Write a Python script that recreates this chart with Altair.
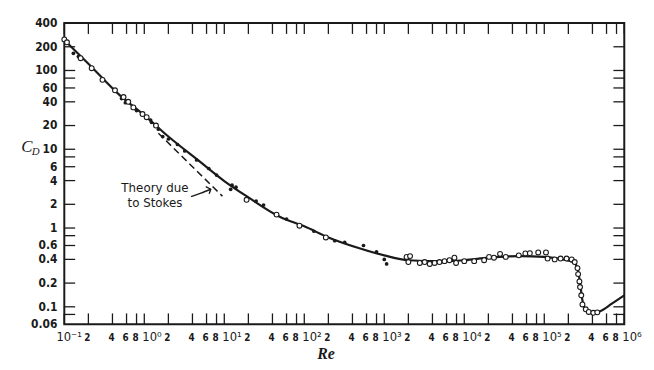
import altair as alt
import pandas as pd

# ---------------- data ----------------
curve_re = [0.1, 0.2, 0.5, 1, 2, 5, 10, 20, 50, 100, 200, 500, 1000, 2000, 5000,
            1e4, 2e4, 5e4, 1e5, 1.7e5, 2.3e5, 2.6e5, 2.8e5, 3.0e5, 3.3e5, 3.8e5,
            4.4e5, 5e5, 7e5, 1e6]
curve_cd = [244, 122, 48, 27, 14.5, 6.9, 3.95, 2.45, 1.38, 1.05, 0.76, 0.55, 0.45,
            0.39, 0.38, 0.39, 0.42, 0.44, 0.43, 0.40, 0.37, 0.31, 0.20, 0.12,
            0.092, 0.085, 0.085, 0.088, 0.11, 0.14]

stokes_re = [1.5, 9.5]
stokes_cd = [16.0, 2.53]

open_re = [0.1, 0.108, 0.16, 0.22, 0.30, 0.43, 0.55, 0.63, 0.73, 0.95, 1.07, 1.4,
           19, 45, 87, 186, 1900, 2000, 2100, 2780, 3200, 3700, 4260, 4900, 5660,
           6530, 7530, 7900, 1e4, 1.33e4, 1.77e4, 2.04e4, 2.35e4, 2.8e4, 3.3e4,
           4.8e4, 5.8e4, 6.6e4, 8.4e4, 1.05e5, 1.1e5, 1.35e5, 1.6e5, 1.9e5,
           2.2e5, 2.4e5, 2.6e5, 2.65e5, 2.75e5, 2.8e5, 2.9e5, 3.0e5, 3.3e5,
           3.6e5, 4.1e5, 4.6e5]
open_cd = [248, 228, 143, 107, 76, 56, 46, 40, 34, 28, 25.5, 20,
           2.28, 1.48, 1.07, 0.76, 0.43, 0.37, 0.44, 0.36, 0.37, 0.35, 0.36, 0.37,
           0.38, 0.39, 0.42, 0.36, 0.38, 0.38, 0.39, 0.43, 0.42, 0.47, 0.43,
           0.45, 0.475, 0.48, 0.49, 0.49, 0.41, 0.40, 0.41, 0.41,
           0.40, 0.37, 0.31, 0.26, 0.21, 0.178, 0.14, 0.107, 0.093,
           0.086, 0.084, 0.085]

solid_re = [0.13, 0.15, 0.52, 0.58, 0.8, 1.2, 1.23, 1.5, 1.7, 2.0, 2.6, 3.2, 4.5,
            6.4, 8, 12, 12.5, 14, 25, 31, 60, 132, 240, 320, 550, 800, 1000, 1070]
solid_cd = [165, 150, 44, 39, 31, 23.5, 22, 18, 14.5, 13.5, 11.5, 9.5, 7.3,
            5.7, 4.7, 3.1, 3.5, 3.3, 2.2, 1.96, 1.3, 0.91, 0.69, 0.66, 0.6, 0.5,
            0.40, 0.35]

note_lines = ["Theory due", "to Stokes"]
note_re = [1.36, 1.36]
note_cd = [3.2, 2.08]

arrow_re = [3.84, 5.10, 6.78]
arrow_cd = [2.51, 2.77, 3.11]
head_re = [5.87, 6.78, 6.47]
head_cd = [3.36, 3.11, 2.72]

x_tick_values = [m * 10.0 ** k for k in range(-1, 6) for m in (1, 2, 4, 6, 8)] + [1e6]
x_decade_values = [1e-1, 1e0, 1e1, 1e2, 1e3, 1e4, 1e5, 1e6]
x_decade_labels = ["10⁻¹", "10⁰", "10¹", "10²", "10³", "10⁴", "10⁵", "10⁶"]
x_minor_values = [m * 10.0 ** k for k in range(-1, 6) for m in (2, 4, 6, 8)]
x_minor_labels = [str(m) for k in range(-1, 6) for m in (2, 4, 6, 8)]

y_tick_values = [200, 100, 80, 60, 40, 20, 10, 8, 6, 4, 2, 1, 0.8, 0.6, 0.4,
                 0.2, 0.1, 0.08]
y_label_values = [400, 200, 100, 60, 40, 20, 10, 6, 4, 2, 1, 0.6, 0.4, 0.2, 0.1, 0.06]
y_label_texts = ["400", "200", "100", "60", "40", "20", "10", "6", "4", "2", "1",
                 "0.6", "0.4", "0.2", "0.1", "0.06"]

# ---------------- chart ----------------
W, H = 567, 305
TICK = 11
INK = "#1a1a1a"
LABEL_FONT = "DejaVu Sans Condensed"

xs = alt.Scale(type="log", domain=[0.1, 1e6], nice=False)
ys = alt.Scale(type="log", domain=[0.06, 400], nice=False)

def X(f="re"):
    return alt.X(f"{f}:Q", scale=xs, axis=None)

def Y(f="cd"):
    return alt.Y(f"{f}:Q", scale=ys, axis=None)

curve = alt.Chart(pd.DataFrame({"re": curve_re, "cd": curve_cd})).mark_line(
    color=INK, strokeWidth=2.2, interpolate="monotone").encode(x=X(), y=Y())

stokes = alt.Chart(pd.DataFrame({"re": stokes_re, "cd": stokes_cd})).mark_line(
    color=INK, strokeWidth=1.5, strokeDash=[7, 4]).encode(x=X(), y=Y())

opens = alt.Chart(pd.DataFrame({"re": open_re, "cd": open_cd})).mark_point(
    shape="circle", filled=True, fill="white", stroke=INK, strokeWidth=1.1,
    size=24, opacity=1).encode(x=X(), y=Y())

solids = alt.Chart(pd.DataFrame({"re": solid_re, "cd": solid_cd})).mark_point(
    shape="circle", filled=True, color=INK, size=14, opacity=1).encode(x=X(), y=Y())

note = alt.Chart(pd.DataFrame({"re": note_re, "cd": note_cd, "t": note_lines})).mark_text(
    font="DejaVu Sans", fontSize=12, color=INK, align="center", baseline="middle"
).encode(x=X(), y=Y(), text="t:N")

arrow = alt.Chart(pd.DataFrame({"re": arrow_re, "cd": arrow_cd, "o": [0, 1, 2]})).mark_line(
    color=INK, strokeWidth=1.4, interpolate="monotone").encode(x=X(), y=Y(), order="o:Q")
head = alt.Chart(pd.DataFrame({"re": head_re, "cd": head_cd, "o": [0, 1, 2]})).mark_line(
    color=INK, strokeWidth=1.4).encode(x=X(), y=Y(), order="o:Q")

xt = pd.DataFrame({"re": x_tick_values})
yt = pd.DataFrame({"cd": y_tick_values})
tick_style = dict(color=INK, strokeWidth=1.3)
xt_bottom = alt.Chart(xt).mark_rule(**tick_style).encode(
    x=X(), y=alt.value(H - TICK), y2=alt.value(H))
xt_top = alt.Chart(xt).mark_rule(**tick_style).encode(
    x=X(), y=alt.value(0), y2=alt.value(TICK))
yt_left = alt.Chart(yt).mark_rule(**tick_style).encode(
    y=Y(), x=alt.value(0), x2=alt.value(TICK))
yt_right = alt.Chart(yt).mark_rule(**tick_style).encode(
    y=Y(), x=alt.value(W - TICK), x2=alt.value(W))

dec_df = pd.DataFrame({"re": x_decade_values, "t": x_decade_labels})
dec_style = dict(font=LABEL_FONT, fontSize=13, color=INK, align="left", baseline="middle")
xdec_first = alt.Chart(dec_df).transform_filter("datum.re < 0.5").mark_text(
    dx=-8, **dec_style).encode(x=X(), y=alt.value(H + 13), text="t:N")
xdec = alt.Chart(dec_df).transform_filter("datum.re > 0.5").mark_text(
    dx=-2, **dec_style).encode(x=X(), y=alt.value(H + 13), text="t:N")
xmin = alt.Chart(pd.DataFrame({"re": x_minor_values, "t": x_minor_labels})).mark_text(
    font=LABEL_FONT, fontSize=10, fontWeight="bold", color=INK, align="center",
    baseline="middle", dx=-1).encode(x=X(), y=alt.value(H + 14), text="t:N")
ylab = alt.Chart(pd.DataFrame({"cd": y_label_values, "t": y_label_texts})).mark_text(
    font=LABEL_FONT, fontSize=12, fontWeight="bold", color=INK, align="right",
    baseline="middle").encode(y=Y(), x=alt.value(-7), text="t:N")

title_df = pd.DataFrame({"a": [0]})
cd_c = alt.Chart(title_df).mark_text(
    font="Liberation Serif", fontStyle="italic", fontSize=17, color=INK,
    align="center", baseline="middle").encode(
    x=alt.value(-38), y=alt.value(126), text=alt.value("C"))
cd_d = alt.Chart(title_df).mark_text(
    font="Liberation Serif", fontStyle="italic", fontSize=11, color=INK,
    align="center", baseline="middle").encode(
    x=alt.value(-29), y=alt.value(131), text=alt.value("D"))
re_t = alt.Chart(title_df).mark_text(
    font="Liberation Serif", fontStyle="italic", fontWeight="bold", fontSize=16,
    color=INK, align="center", baseline="middle").encode(
    x=alt.value(265), y=alt.value(H + 30), text=alt.value("Re"))

chart = alt.layer(
    xt_bottom, xt_top, yt_left, yt_right,
    stokes, curve, arrow, head, solids, opens, note,
    xdec_first, xdec, xmin, ylab, cd_c, cd_d, re_t,
).properties(
    width=W, height=H,
    autosize=alt.AutoSizeParams(type="none"),
    padding={"left": 57, "top": 13, "right": 22, "bottom": 40},
    background="white",
).configure_view(stroke=INK, strokeWidth=2)

chart.save("out.html", embed_options={"renderer": "svg", "actions": False})
